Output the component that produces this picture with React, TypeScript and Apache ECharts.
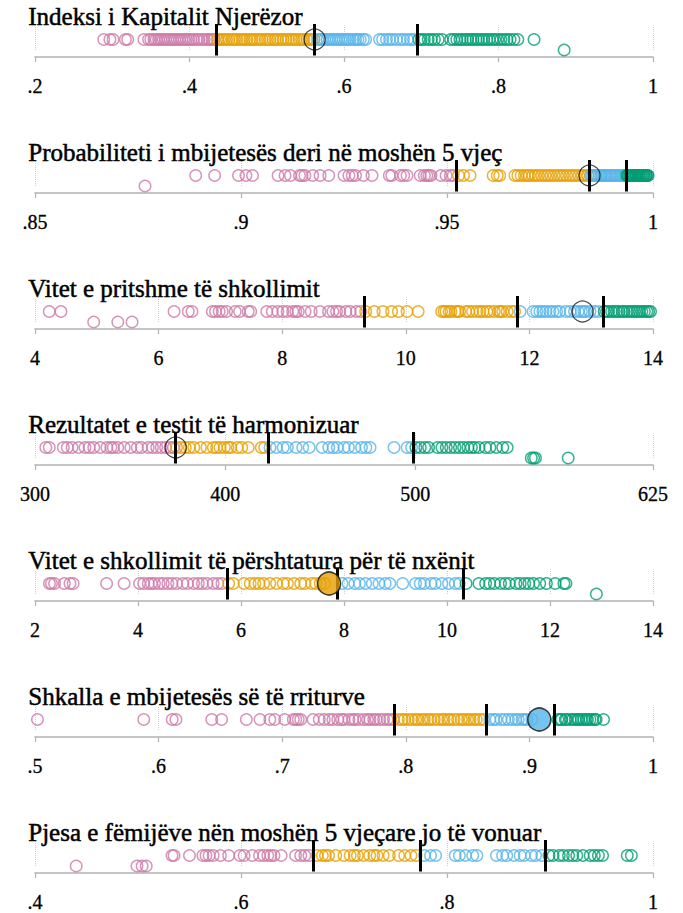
import React, { useEffect, useRef } from 'react';
import * as echarts from 'echarts';

const PINK = '#cc79a7';
const ORANGE = '#e69f00';
const BLUE = '#56b4e9';
const GREEN = '#009e73';
const SERIF = 'Liberation Serif';

const titles = [
  'Indeksi i Kapitalit Njerëzor',
  'Probabiliteti i mbijetesës deri në moshën 5 vjeç',
  'Vitet e pritshme të shkollimit',
  'Rezultatet e testit të harmonizuar',
  'Vitet e shkollimit të përshtatura për të nxënit',
  'Shkalla e mbijetesës së të rriturve',
  'Pjesa e fëmijëve nën moshën 5 vjeçare jo të vonuar',
];

// Panel 1
const p1Ticks = [0.2, 0.4, 0.6, 0.8, 1];
const p1Pink = [0.289, 0.297, 0.301, 0.317, 0.320, 0.341, 0.347, 0.350, 0.354, 0.357, 0.360, 0.363, 0.366, 0.369, 0.372, 0.375, 0.378, 0.381, 0.384, 0.387, 0.390, 0.393, 0.396, 0.399, 0.402, 0.405, 0.409, 0.412, 0.416, 0.419, 0.423, 0.426, 0.429, 0.432];
const p1Orange = [0.436, 0.439, 0.442, 0.445, 0.448, 0.451, 0.455, 0.458, 0.461, 0.465, 0.468, 0.471, 0.474, 0.478, 0.481, 0.484, 0.488, 0.491, 0.494, 0.498, 0.501, 0.504, 0.508, 0.511, 0.514, 0.518, 0.521, 0.525, 0.528, 0.532, 0.535, 0.538, 0.542, 0.545, 0.548, 0.552, 0.555, 0.558, 0.561];
const p1Blue = [0.566, 0.569, 0.572, 0.575, 0.578, 0.581, 0.584, 0.587, 0.590, 0.593, 0.596, 0.599, 0.602, 0.605, 0.608, 0.612, 0.615, 0.618, 0.621, 0.625, 0.628, 0.646, 0.650, 0.655, 0.659, 0.663, 0.668, 0.673, 0.677, 0.682, 0.686, 0.690];
const p1Green = [0.697, 0.700, 0.704, 0.709, 0.713, 0.717, 0.722, 0.727, 0.738, 0.742, 0.746, 0.750, 0.753, 0.757, 0.760, 0.764, 0.767, 0.771, 0.774, 0.778, 0.781, 0.785, 0.788, 0.792, 0.795, 0.799, 0.803, 0.807, 0.811, 0.815, 0.820, 0.825, 0.846];
const p1GreenLow = [0.885];
const p1Quartiles = [0.435, 0.562, 0.695];
const p1Highlight = 0.562;

// Panel 2
const p2Ticks = [0.85, 0.9, 0.95, 1];
const p2Pink = [0.8890, 0.8936, 0.8994, 0.9012, 0.9028, 0.9090, 0.9107, 0.9120, 0.9142, 0.9148, 0.9155, 0.9174, 0.9192, 0.9213, 0.9250, 0.9262, 0.9270, 0.9278, 0.9297, 0.9318, 0.9360, 0.9366, 0.9387, 0.9395, 0.9403, 0.9435, 0.9445, 0.9451, 0.9456, 0.9461, 0.9485, 0.9498, 0.9508, 0.9515];
const p2PinkLow = [0.8767];
const p2Orange = [0.9528, 0.9540, 0.9556, 0.9612, 0.9622, 0.9628, 0.9665, 0.9672, 0.9680, 0.9688, 0.9695, 0.9700, 0.9708, 0.9715, 0.9722, 0.9730, 0.9738, 0.9745, 0.9752, 0.9760, 0.9768, 0.9775, 0.9782, 0.9790, 0.9798, 0.9805, 0.9812, 0.9820, 0.9828, 0.9835, 0.9842];
const p2Blue = [0.9849, 0.9853, 0.9856, 0.9861, 0.9864, 0.9869, 0.9873, 0.9876, 0.9881, 0.9885, 0.9888, 0.9893, 0.9897, 0.9900, 0.9905, 0.9909, 0.9912, 0.9917, 0.9921, 0.9924, 0.9929, 0.9932];
const p2Green = [0.9936, 0.9939, 0.9940, 0.9943, 0.9945, 0.9946, 0.9949, 0.9951, 0.9953, 0.9954, 0.9957, 0.9959, 0.9960, 0.9963, 0.9965, 0.9966, 0.9969, 0.9971, 0.9972, 0.9975, 0.9977, 0.9978, 0.9981, 0.9983, 0.9984, 0.9987, 0.9988];
const p2Quartiles = [0.9522, 0.9846, 0.9934];
const p2Highlight = 0.9846;

// Panel 3
const p3Ticks = [4, 6, 8, 10, 12, 14];
const p3Pink = [4.23, 4.42, 6.25, 6.48, 6.54, 6.87, 6.92, 6.98, 7.03, 7.10, 7.24, 7.31, 7.45, 7.49, 7.75, 7.84, 7.93, 8.01, 8.08, 8.17, 8.22, 8.26, 8.37, 8.47, 8.61, 8.75, 8.82, 8.88, 8.93, 9.03, 9.10, 9.20, 9.27];
const p3PinkLow = [4.95, 5.34, 5.57];
const p3Orange = [9.35, 9.49, 9.63, 9.77, 9.88, 10.02, 10.20, 10.58, 10.62, 10.65, 10.70, 10.73, 10.80, 10.84, 10.87, 10.97, 11.02, 11.08, 11.15, 11.20, 11.25, 11.31, 11.36, 11.43, 11.50, 11.53, 11.57, 11.64, 11.71, 11.76];
const p3Blue = [11.85, 12.06, 12.12, 12.17, 12.22, 12.27, 12.33, 12.38, 12.44, 12.49, 12.59, 12.66, 12.73, 12.79, 12.84, 12.88, 12.91, 12.98, 13.05, 13.12];
const p3Green = [13.21, 13.25, 13.28, 13.33, 13.37, 13.41, 13.45, 13.50, 13.53, 13.58, 13.62, 13.66, 13.70, 13.74, 13.78, 13.82, 13.86, 13.90, 13.93, 13.96];
const p3Quartiles = [9.32, 11.80, 13.19];
const p3Highlight = 12.86;

// Panel 4
const p4Ticks = [300, 400, 500, 625];
const p4Pink = [305.7, 307.5, 314.9, 317.0, 319.5, 322.9, 326.3, 328.5, 330.9, 334.3, 337.8, 339.9, 341.2, 343.5, 346.9, 350.4, 353.8, 356.0, 359.5, 361.8, 364.0, 366.4, 368.7, 371.0, 372.8];
const p4Orange = [374.4, 376.7, 379.0, 381.2, 383.5, 387.0, 390.4, 393.8, 395.5, 397.3, 399.6, 401.5, 403.0, 406.4, 408.7, 412.1, 419.0, 420.8];
const p4Blue = [423.6, 427.0, 430.5, 432.7, 437.3, 440.8, 444.2, 451.0, 454.5, 456.8, 459.0, 462.5, 464.8, 468.2, 471.7, 474.0, 476.2, 488.8, 495.7, 498.0];
const p4Green = [500.3, 502.6, 505.0, 507.0, 511.7, 514.0, 516.3, 518.6, 520.9, 523.2, 525.4, 527.7, 529.5, 531.2, 533.5, 536.9, 539.2, 542.6, 546.0, 548.3];
const p4GreenLow = [561.0, 562.2, 563.2, 580.4];
const p4Quartiles = [374.0, 422.9, 499.1];
const p4Highlight = 374.0;

// Panel 5
const p5Ticks = [2, 4, 6, 8, 10, 12, 14];
const p5Pink = [2.28, 2.32, 2.38, 2.57, 2.68, 2.74, 3.39, 3.73, 4.03, 4.11, 4.20, 4.26, 4.32, 4.41, 4.49, 4.58, 4.66, 4.75, 4.87, 4.96, 5.08, 5.17, 5.25, 5.34, 5.46, 5.55, 5.63];
const p5Orange = [5.76, 5.85, 6.06, 6.18, 6.27, 6.35, 6.44, 6.56, 6.69, 6.82, 6.90, 7.03, 7.16, 7.24, 7.37, 7.45, 7.54, 7.62];
const p5Blue = [7.96, 8.08, 8.21, 8.30, 8.42, 8.55, 8.68, 8.80, 8.89, 9.14, 9.39, 9.48, 9.56, 9.69, 9.77, 9.90, 10.03, 10.16, 10.24];
const p5Green = [10.37, 10.62, 10.75, 10.83, 10.92, 11.04, 11.13, 11.21, 11.34, 11.42, 11.51, 11.59, 11.68, 11.80, 11.93, 12.10, 12.27, 12.31];
const p5GreenLow = [12.90];
const p5Quartiles = [5.74, 7.87, 10.31];
const p5Highlight = 7.71;

// Panel 6
const p6Ticks = [0.5, 0.6, 0.7, 0.8, 0.9, 1];
const p6Pink = [0.502, 0.588, 0.611, 0.614, 0.643, 0.651, 0.671, 0.682, 0.690, 0.694, 0.702, 0.709, 0.711, 0.713, 0.715, 0.725, 0.730, 0.734, 0.738, 0.741, 0.745, 0.748, 0.750, 0.754, 0.757, 0.759, 0.762, 0.766, 0.769, 0.771, 0.774, 0.776, 0.779, 0.782, 0.785, 0.787, 0.790];
const p6Orange = [0.794, 0.797, 0.799, 0.802, 0.805, 0.808, 0.810, 0.813, 0.815, 0.818, 0.820, 0.823, 0.826, 0.829, 0.831, 0.834, 0.836, 0.839, 0.842, 0.845, 0.847, 0.850, 0.852, 0.855, 0.857, 0.860, 0.863];
const p6Blue = [0.868, 0.871, 0.873, 0.877, 0.880, 0.883, 0.886, 0.889, 0.891, 0.894, 0.896, 0.898, 0.902];
const p6Green = [0.923, 0.925, 0.926, 0.929, 0.930, 0.933, 0.935, 0.937, 0.939, 0.940, 0.942, 0.944, 0.946, 0.947, 0.949, 0.951, 0.953, 0.954, 0.960];
const p6Quartiles = [0.791, 0.865, 0.920];
const p6Highlight = 0.908;

// Panel 7
const p7Ticks = [0.4, 0.6, 0.8, 1];
const p7Pink = [0.533, 0.535, 0.550, 0.563, 0.566, 0.569, 0.573, 0.580, 0.588, 0.599, 0.603, 0.611, 0.618, 0.622, 0.626, 0.629, 0.632, 0.639, 0.653, 0.658, 0.662, 0.666];
const p7PinkLow = [0.440, 0.499, 0.504, 0.508];
const p7Orange = [0.674, 0.679, 0.682, 0.685, 0.692, 0.700, 0.706, 0.710, 0.713, 0.719, 0.725, 0.729, 0.732, 0.738, 0.744, 0.753, 0.759, 0.765, 0.770];
const p7Blue = [0.778, 0.784, 0.789, 0.808, 0.812, 0.818, 0.825, 0.829, 0.848, 0.854, 0.858, 0.865, 0.871, 0.875, 0.882, 0.886, 0.892];
const p7Green = [0.899, 0.903, 0.909, 0.913, 0.918, 0.922, 0.926, 0.932, 0.939, 0.943, 0.947, 0.951, 0.975, 0.979];
const p7Quartiles = [0.670, 0.774, 0.895];

type Panel = {
  title: string; min: number; max: number; ticks: number[];
  pink: number[]; orange: number[]; blue: number[]; green: number[];
  pinkLow: number[]; greenLow: number[]; quartiles: number[];
  highlight: number | null; hlFill: string | null;
};

const panels: Panel[] = [
  { title: titles[0], min: 0.2, max: 1, ticks: p1Ticks, pink: p1Pink, orange: p1Orange, blue: p1Blue, green: p1Green, pinkLow: [], greenLow: p1GreenLow, quartiles: p1Quartiles, highlight: p1Highlight, hlFill: null },
  { title: titles[1], min: 0.85, max: 1, ticks: p2Ticks, pink: p2Pink, orange: p2Orange, blue: p2Blue, green: p2Green, pinkLow: p2PinkLow, greenLow: [], quartiles: p2Quartiles, highlight: p2Highlight, hlFill: null },
  { title: titles[2], min: 4, max: 14, ticks: p3Ticks, pink: p3Pink, orange: p3Orange, blue: p3Blue, green: p3Green, pinkLow: p3PinkLow, greenLow: [], quartiles: p3Quartiles, highlight: p3Highlight, hlFill: null },
  { title: titles[3], min: 300, max: 625, ticks: p4Ticks, pink: p4Pink, orange: p4Orange, blue: p4Blue, green: p4Green, pinkLow: [], greenLow: p4GreenLow, quartiles: p4Quartiles, highlight: p4Highlight, hlFill: null },
  { title: titles[4], min: 2, max: 14, ticks: p5Ticks, pink: p5Pink, orange: p5Orange, blue: p5Blue, green: p5Green, pinkLow: [], greenLow: p5GreenLow, quartiles: p5Quartiles, highlight: p5Highlight, hlFill: ORANGE },
  { title: titles[5], min: 0.5, max: 1, ticks: p6Ticks, pink: p6Pink, orange: p6Orange, blue: p6Blue, green: p6Green, pinkLow: [], greenLow: [], quartiles: p6Quartiles, highlight: p6Highlight, hlFill: BLUE },
  { title: titles[6], min: 0.4, max: 1, ticks: p7Ticks, pink: p7Pink, orange: p7Orange, blue: p7Blue, green: p7Green, pinkLow: p7PinkLow, greenLow: [], quartiles: p7Quartiles, highlight: null, hlFill: null },
];

const PANEL_STEP = 136;
const MAIN_Y = 5;
const LOW_Y = 2;

const fmt = (v: number) => String(v).replace(/^0\./, '.');

function buildOption() {
  const grid: any[] = [];
  const xAxis: any[] = [];
  const yAxis: any[] = [];
  const series: any[] = [];
  const graphic: any[] = [];
  panels.forEach((p, i) => {
    const top = 22 + i * PANEL_STEP;
    grid.push({ left: 35, right: 30, top, height: 35 });
    xAxis.push({
      gridIndex: i, type: 'value', min: p.min, max: p.max,
      axisLine: { show: true, onZero: false, lineStyle: { color: '#b3b3b3', width: 1.5 } },
      axisTick: { show: true, length: 5, customValues: p.ticks, lineStyle: { color: '#b3b3b3', width: 1.2 } },
      axisLabel: {
        customValues: p.ticks, margin: 19, fontFamily: SERIF, fontSize: 20, color: '#000', formatter: fmt,
        textBorderColor: '#000', textBorderWidth: 0.3,
      },
      splitLine: { show: false },
    });
    yAxis.push({ gridIndex: i, type: 'value', min: 0, max: 10, show: false });
    series.push({
      type: 'lines', coordinateSystem: 'cartesian2d', xAxisIndex: i, yAxisIndex: i, z: 1, silent: true,
      lineStyle: { color: '#cfcfcf', width: 1, type: 'dotted', opacity: 1 },
      data: p.ticks.map((t) => ({ coords: [[t, 2], [t, 9]] })),
    });
    const groups: [number[], number[], string][] = [
      [p.pink, p.pinkLow, PINK],
      [p.orange, [], ORANGE],
      [p.blue, [], BLUE],
      [p.green, p.greenLow, GREEN],
    ];
    groups.forEach(([main, low, c]) => {
      series.push({
        type: 'scatter', xAxisIndex: i, yAxisIndex: i, symbol: 'circle', symbolSize: 11.5, z: 2, silent: true,
        itemStyle: { color: 'rgba(0,0,0,0)', borderColor: c, borderWidth: 1.4 },
        data: [...main.map((v) => [v, MAIN_Y]), ...low.map((v) => [v, LOW_Y])],
      });
    });
    series.push({
      type: 'lines', coordinateSystem: 'cartesian2d', xAxisIndex: i, yAxisIndex: i, z: 3, silent: true,
      lineStyle: { color: '#000', width: 3, opacity: 1 },
      data: p.quartiles.map((q) => ({ coords: [[q, 0.4], [q, 9.4]] })),
    });
    if (p.highlight != null) {
      series.push({
        type: 'scatter', xAxisIndex: i, yAxisIndex: i, symbol: 'circle', z: 4, silent: true,
        symbolSize: p.hlFill ? 23 : 21,
        itemStyle: { color: p.hlFill || 'rgba(0,0,0,0)', borderColor: '#111', borderWidth: p.hlFill ? 1.5 : 1.2 },
        data: [[p.highlight, MAIN_Y]],
      });
    }
    graphic.push({
      type: 'text', left: 28, top: 4 + i * PANEL_STEP, z: 10,
      style: { text: p.title, fontFamily: SERIF, fontSize: 25, fill: '#000', stroke: '#000', lineWidth: 0.5 },
    });
  });
  return { animation: false, backgroundColor: '#fff', textStyle: { fontFamily: SERIF }, graphic, grid, xAxis, yAxis, series };
}

export default function App() {
  const ref = useRef<HTMLDivElement>(null);
  useEffect(() => {
    if (!ref.current) return;
    const chart = echarts.init(ref.current, null, { renderer: 'svg' });
    chart.setOption(buildOption() as any);
    return () => chart.dispose();
  }, []);
  return <div ref={ref} style={{ position: 'absolute', left: 0, top: 0, width: 683, height: 913 }} />;
}
